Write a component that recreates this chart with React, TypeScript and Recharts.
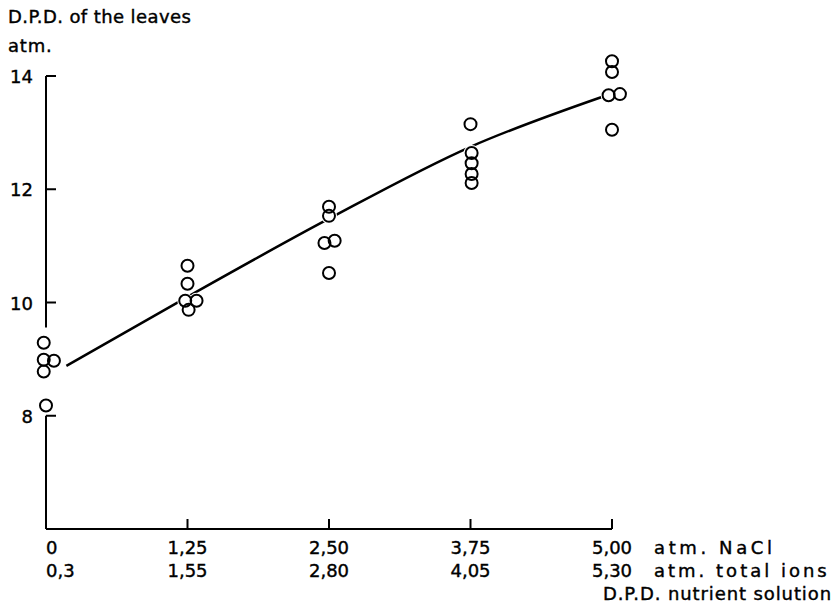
import React from "react";
import { ComposedChart, XAxis, YAxis, Line, Scatter, ReferenceLine } from "recharts";

const xTicks = [0, 1.25, 2.5, 3.75, 5];
const naclLabels = ["0", "1,25", "2,50", "3,75", "5,00"];
const ionLabels = ["0,3", "1,55", "2,80", "4,05", "5,30"];
const yTicks = [8, 10, 12, 14];

const titleLines = ["D.P.D. of the leaves", "atm."];
const xUnitNaCl = "atm. NaCl";
const xUnitIons = "atm. total ions";
const xTitle = "D.P.D. nutrient solution";

const points0 = [
  { x: -0.02, y: 9.29 },
  { x: -0.02, y: 8.99 },
  { x: 0.07, y: 8.97 },
  { x: -0.02, y: 8.78 },
  { x: 0, y: 8.18 },
];
const points125 = [
  { x: 1.25, y: 10.65 },
  { x: 1.25, y: 10.33 },
  { x: 1.23, y: 10.03 },
  { x: 1.33, y: 10.03 },
  { x: 1.26, y: 9.87 },
];
const points250 = [
  { x: 2.5, y: 11.69 },
  { x: 2.5, y: 11.53 },
  { x: 2.46, y: 11.05 },
  { x: 2.55, y: 11.09 },
  { x: 2.5, y: 10.52 },
];
const points375 = [
  { x: 3.75, y: 13.15 },
  { x: 3.76, y: 12.64 },
  { x: 3.76, y: 12.46 },
  { x: 3.76, y: 12.27 },
  { x: 3.76, y: 12.11 },
];
const points500 = [
  { x: 5.0, y: 14.26 },
  { x: 5.0, y: 14.07 },
  { x: 4.97, y: 13.66 },
  { x: 5.07, y: 13.68 },
  { x: 5.0, y: 13.05 },
];
const allPoints = [...points0, ...points125, ...points250, ...points375, ...points500];

const curve = [
  { x: 0.18, y: 8.88 },
  { x: 1.25, y: 10.1 },
  { x: 2.5, y: 11.48 },
  { x: 3.75, y: 12.75 },
  { x: 4.91, y: 13.63 },
];

const FONT = "DejaVu Sans";
const FS = 18;
const textStyle = { fontFamily: FONT, fontSize: FS, fill: "#000", stroke: "#000", strokeWidth: 0.4 };

const Ring = (props: any) => (
  <circle cx={props.cx} cy={props.cy} r={6} fill="none" stroke="#000" strokeWidth={2} />
);
const Halo = (props: any) => (
  <circle cx={props.cx} cy={props.cy} r={8} fill="#fff" stroke="none" />
);

const XTick = (props: any) => {
  const { x, y, index } = props;
  const anchor = index === 0 ? "start" : "middle";
  const last = index === xTicks.length - 1;
  return (
    <g>
      <line x1={x} y1={y} x2={x} y2={y - 10} stroke="#000" strokeWidth={2} />
      <text x={x} y={y + 25} textAnchor={anchor} {...textStyle}>
        {naclLabels[index]}
      </text>
      <text x={x} y={y + 48} textAnchor={anchor} {...textStyle}>
        {ionLabels[index]}
      </text>
      {last && (
        <>
          <text x={x + 42} y={y + 25} textAnchor="start" {...textStyle} letterSpacing={3.6}>
            {xUnitNaCl}
          </text>
          <text x={x + 42} y={y + 48} textAnchor="start" {...textStyle} letterSpacing={3}>
            {xUnitIons}
          </text>
          <text x={x + 220} y={y + 71} textAnchor="end" {...textStyle} letterSpacing={0.9}>
            {xTitle}
          </text>
        </>
      )}
    </g>
  );
};

const YTick = (props: any) => {
  const { x, y, payload } = props;
  return (
    <g>
      <line x1={x} y1={y} x2={x + 10} y2={y} stroke="#000" strokeWidth={2} />
      <text x={x - 13} y={y + 7} textAnchor="end" {...textStyle}>
        {payload.value}
      </text>
    </g>
  );
};

const YTitle = (props: any) => {
  const vb = props.viewBox || { x: 0, y: 76 };
  return (
    <g>
      <text x={8} y={vb.y - 53} {...textStyle} letterSpacing={0.4}>
        {titleLines[0]}
      </text>
      <text x={8} y={vb.y - 24} {...textStyle} letterSpacing={0.8}>
        {titleLines[1]}
      </text>
    </g>
  );
};

export default function App() {
  return (
    <div style={{ position: "absolute", left: 0, top: 0, width: 838, height: 611, background: "#fff" }}>
      <style>{`.recharts-wrapper g, .recharts-wrapper path { clip-path: none !important; }`}</style>
      <ComposedChart
        width={838}
        height={611}
        margin={{ top: 76, right: 226, bottom: 0, left: 0 }}
      >
        <XAxis
          dataKey="x"
          type="number"
          domain={[0, 5]}
          ticks={xTicks}
          interval={0}
          allowDataOverflow
          height={82}
          tickSize={0}
          tickMargin={0}
          axisLine={{ stroke: "#000", strokeWidth: 2 }}
          tickLine={false}
          tick={<XTick />}
        />
        <YAxis
          type="number"
          domain={[6, 14]}
          ticks={yTicks}
          interval={0}
          allowDataOverflow
          width={46}
          tickSize={0}
          tickMargin={0}
          axisLine={false}
          tickLine={false}
          tick={<YTick />}
          label={{ content: <YTitle /> }}
        />
        <ReferenceLine
          segment={[{ x: 0, y: 6 }, { x: 0, y: 8 }]}
          stroke="#000"
          strokeWidth={2}
        />
        <ReferenceLine
          segment={[{ x: 0, y: 9.56 }, { x: 0, y: 14 }]}
          stroke="#000"
          strokeWidth={2}
        />
        <Line
          data={curve}
          dataKey="y"
          type="monotone"
          stroke="#000"
          strokeWidth={2.5}
          dot={false}
          activeDot={false}
          isAnimationActive={false}
        />
        <Scatter data={allPoints} dataKey="y" shape={<Halo />} isAnimationActive={false} />
        <Scatter data={allPoints} dataKey="y" shape={<Ring />} isAnimationActive={false} />
      </ComposedChart>
    </div>
  );
}
